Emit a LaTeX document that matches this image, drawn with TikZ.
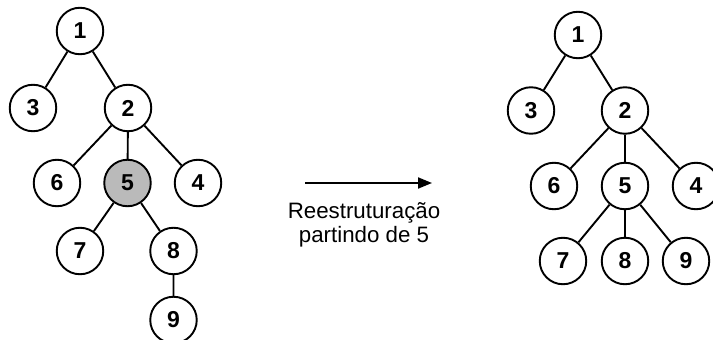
\documentclass[tikz,border=0pt]{standalone}
\usepackage{fontspec}
\setmainfont{Liberation Sans}
\usetikzlibrary{arrows.meta}
\begin{document}
\begin{tikzpicture}[x=1pt,y=-1pt,
  vtx/.style={circle,draw,line width=1.9pt,minimum size=46.5pt,inner sep=0pt,
              font=\fontsize{23}{25}\selectfont\bfseries},
  hot/.style={vtx,fill=black!27},
  link/.style={line width=1.9pt}]
\useasboundingbox (0,0) rectangle (713,340);
\clip (0,0) rectangle (713,340);
% tree before the restructuring
\node[vtx] (a1) at (80,31) {1};
\node[vtx] (a3) at (33,108) {3};
\node[vtx] (a2) at (128,108) {2};
\node[vtx] (a6) at (57,183) {6};
\node[hot] (a5) at (127.5,183) {5};
\node[vtx] (a4) at (198,183) {4};
\node[vtx] (a7) at (80,251) {7};
\node[vtx] (a8) at (173.5,251) {8};
\node[vtx] (a9) at (173.5,320) {9};
\draw[link] (a1)--(a3) (a1)--(a2) (a2)--(a6) (a2)--(a5) (a2)--(a4)
            (a5)--(a7) (a5)--(a8) (a8)--(a9);
% tree after the restructuring
\node[vtx] (b1) at (578,35) {1};
\node[vtx] (b3) at (531,110.5) {3};
\node[vtx] (b2) at (625,110.5) {2};
\node[vtx] (b6) at (554,186) {6};
\node[vtx] (b5) at (625,186) {5};
\node[vtx] (b4) at (696,186) {4};
\node[vtx] (b7) at (563,261) {7};
\node[vtx] (b8) at (625,261) {8};
\node[vtx] (b9) at (686,261) {9};
\draw[link] (b1)--(b3) (b1)--(b2) (b2)--(b6) (b2)--(b5) (b2)--(b4)
            (b5)--(b7) (b5)--(b8) (b5)--(b9);
% transition arrow and caption
\coordinate (s) at (305,183);
\coordinate (e) at (432,183);
\draw[link,-{Triangle[length=14pt,width=11pt]}] (s)--(e);
\node[align=center,font=\fontsize{22.3}{24}\selectfont] (cap) at (364,225)
  {Reestruturação\\partindo de 5};
\end{tikzpicture}
\end{document}
